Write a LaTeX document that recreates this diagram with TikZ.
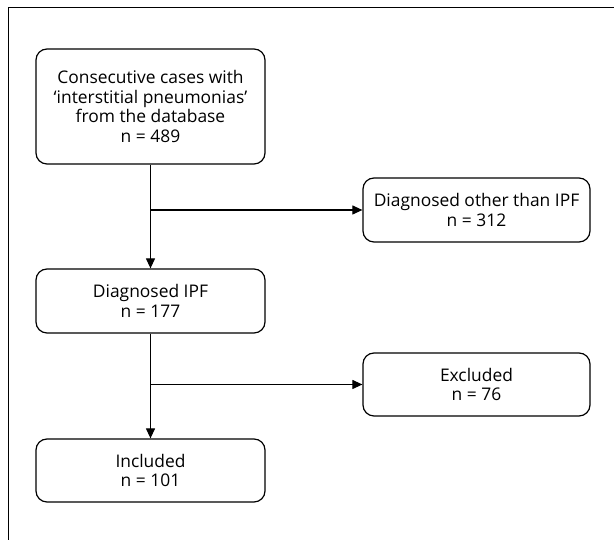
\documentclass[tikz,border=0pt]{standalone}
\usepackage{fontspec}
\setmainfont{Open Sans}
\usetikzlibrary{arrows.meta,positioning}

\tikzset{
  flowbox/.style={draw,rectangle,rounded corners=11pt,line width=1.2pt,minimum width=229pt,minimum height=64pt,align=center,inner sep=0pt,font=\fontsize{17.4}{19.8}\selectfont},
  flowarrow/.style={-{Triangle[length=10pt,width=9pt]},line width=1.1pt}
}

\begin{document}
\begin{tikzpicture}[x=1pt,y=1pt]
\useasboundingbox (0,0) rectangle (614,540);
\draw[line width=1pt] (8,0) -- (8,532) -- (614,532);
\node[flowbox,minimum height=115pt] (cases) at (150.5,433.5) {Consecutive cases with\\‘interstitial pneumonias’\\from the database\\n = 489};
\node[flowbox,minimum width=227pt] (other) at (476.5,330) {Diagnosed other than IPF\\n = 312};
\node[flowbox] (ipf) at (150.5,239) {Diagnosed IPF\\n = 177};
\node[flowbox,minimum width=227pt,minimum height=63pt] (excl) at (476.5,155.5) {Excluded\\n = 76};
\node[flowbox,minimum height=63pt] (incl) at (150.5,69.5) {Included\\n = 101};
\coordinate (split1) at (cases |- other);
\coordinate (split2) at (ipf |- excl);
\draw[flowarrow] (cases) -- (ipf);
\draw[flowarrow] (split1) -- (other);
\draw[flowarrow] (ipf) -- (incl);
\draw[flowarrow] (split2) -- (excl);
\end{tikzpicture}
\end{document}
